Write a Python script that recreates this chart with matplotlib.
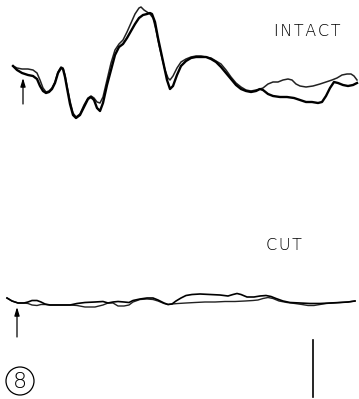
import matplotlib
matplotlib.use("Agg")
import matplotlib.pyplot as plt
from matplotlib.patches import Circle

# sweep position (arbitrary time units) and deflection (up = positive)
intact_t1 = [13, 17, 22, 28, 33, 37, 40, 43, 46, 49, 52, 55, 58, 61, 63, 65, 67, 70, 73, 76,
             80, 84, 88, 91, 94, 97, 100, 103, 107, 111, 115, 119, 123, 127, 131, 135, 139,
             143, 147, 150, 152, 155, 158, 161, 164, 167, 170, 173, 177, 181, 186, 191, 196,
             201, 206, 211, 216, 221, 226, 231, 236, 241, 246, 251, 256, 260, 263, 268, 273,
             280, 287, 294, 300, 306, 312, 318, 322, 326, 330, 334, 338, 343, 348, 353, 357]
intact_v1 = [0, -4, -7, -9, -10, -13, -20, -25, -27, -26, -23, -17, -7, -2, -3, -11, -22, -38,
             -49, -52, -49, -41, -33, -31, -34, -42, -45, -37, -19, -4, 11, 19, 22, 28, 35, 42,
             48, 51, 52, 53, 52, 44, 28, 14, 0, -14, -23, -20, -9, 0, 5, 8, 9, 9, 9, 7, 4, -1,
             -7, -13, -19, -23, -25, -26, -25, -23, -24, -28, -30, -31, -31, -32, -34, -36,
             -36, -37, -36, -30, -22, -16, -17, -19, -20, -19, -17]

intact_t2 = [13, 17, 22, 28, 33, 37, 40, 43, 46, 49, 52, 55, 58, 61, 63, 65, 67, 70, 73, 76,
             80, 84, 88, 91, 94, 97, 100, 103, 107, 111, 115, 119, 123, 127, 131, 135, 139,
             141, 144, 147, 150, 153, 156, 159, 162, 165, 168, 170, 173, 177, 181, 186, 191,
             196, 201, 206, 211, 216, 221, 226, 231, 236, 241, 246, 251, 256, 260, 263, 268,
             273, 278, 283, 288, 292, 296, 300, 306, 313, 320, 326, 332, 337, 342, 347, 351,
             354, 357]
intact_v2 = [0, -2, -3, -3, -4, -7, -14, -22, -26, -25, -22, -16, -6, -1, -2, -9, -20, -35,
             -47, -51, -48, -39, -32, -30, -32, -36, -37, -31, -14, 3, 16, 22, 26, 34, 43, 52,
             58, 59, 56, 54, 52, 48, 36, 21, 8, -4, -12, -14, -10, -2, 4, 7, 9, 10, 10, 9, 8,
             5, 2, -4, -11, -17, -21, -24, -25, -24, -23, -22, -18, -16, -16, -14, -13, -14,
             -18, -20, -21, -20, -18, -16, -14, -12, -9, -8, -8, -10, -14]

cut_t1 = [7, 12, 18, 24, 28, 32, 37, 41, 45, 50, 60, 70, 77, 85, 95, 103, 108, 113, 118, 124,
          129, 133, 140, 147, 153, 158, 164, 168, 172, 176, 181, 186, 192, 200, 210, 220, 228,
          233, 237, 241, 247, 254, 260, 266, 271, 276, 283, 290, 300, 310, 320, 330, 340, 348,
          355]
cut_v1 = [5, 2, 0, 0, 1, 2.5, 2.5, 1, -1, -2, -2, -2, -0.5, 0.5, 1, 1.5, 0, 1, 1.5, 1, 0.5,
          2.5, 4, 5, 5, 3, 0, -1.5, -1, 2, 5, 7.5, 8.5, 9, 8.5, 8, 7, 8.5, 9.5, 8.5, 6, 6, 7,
          7.5, 6.5, 4.5, 2, 0.5, 0, -0.5, -0.5, 0, 0.5, 1, 2]

cut_t2 = [7, 12, 18, 24, 28, 32, 37, 41, 45, 50, 60, 70, 77, 85, 95, 103, 108, 113, 118, 124,
          129, 133, 140, 147, 153, 158, 164, 168, 172, 178, 186, 195, 205, 215, 225, 235, 245,
          253, 258, 263, 268, 273, 279, 287, 295, 302, 308, 314, 320, 326, 333, 340, 348, 355]
cut_v2 = [5, 2, 0, 0, -0.5, -2, -2.5, -1.5, -1.5, -2, -2, -2, -2.5, -4, -4, -2, 0, 0, -3, -3,
          -2, 1, 3.5, 4, 3.5, 2, -0.5, -1.5, -1, -0.5, 0, 0.5, 1, 1, 1.5, 1.5, 2, 2.5, 3, 4.5,
          5.5, 4.5, 2, 0.5, -0.5, -1.5, -2.5, -2.5, -1.5, -0.5, 0, 0.5, 1, 2]

labels = ["INTACT", "CUT"]
panel_number = "8"


def main():
    fig = plt.figure(figsize=(3.59, 3.99), dpi=100)
    ax = fig.add_axes([0, 0, 1, 1])
    ax.set_xlim(0, 359)
    ax.set_ylim(399, 0)
    ax.axis("off")

    base_top = 66
    base_bot = 303

    ax.plot(intact_t2, [base_top - v for v in intact_v2], color="#222", lw=1.1,
            solid_joinstyle="round")
    ax.plot(intact_t1, [base_top - v for v in intact_v1], color="black", lw=1.7,
            solid_joinstyle="round")
    ax.plot(cut_t2, [base_bot - v for v in cut_v2], color="#222", lw=1.0)
    ax.plot(cut_t1, [base_bot - v for v in cut_v1], color="black", lw=1.2)

    # stimulus arrows
    arrow = dict(arrowstyle="-|>,head_length=0.5,head_width=0.15", color="black", lw=0.9,
                 shrinkA=0, shrinkB=0)
    ax.annotate("", xy=(23, 78), xytext=(23, 104), arrowprops=arrow)
    ax.annotate("", xy=(17, 307), xytext=(17, 337), arrowprops=arrow)

    font = dict(fontsize=11.5, family="DejaVu Sans", weight="light", ha="center", va="center")
    ax.text(307, 32, "\u200a".join(labels[0]), **font)
    ax.text(284, 246, "\u200a".join(labels[1]), **font)

    # calibration bar
    ax.plot([313, 313], [340, 397], color="black", lw=1.2)

    ax.add_patch(Circle((20, 381), 14, fill=False, lw=0.9, color="black"))
    ax.text(20, 382, panel_number, fontsize=16, family="DejaVu Sans", weight="light",
            ha="center", va="center")

    fig.savefig("out.png", dpi=100, facecolor="white")


if __name__ == '__main__':
    main()
